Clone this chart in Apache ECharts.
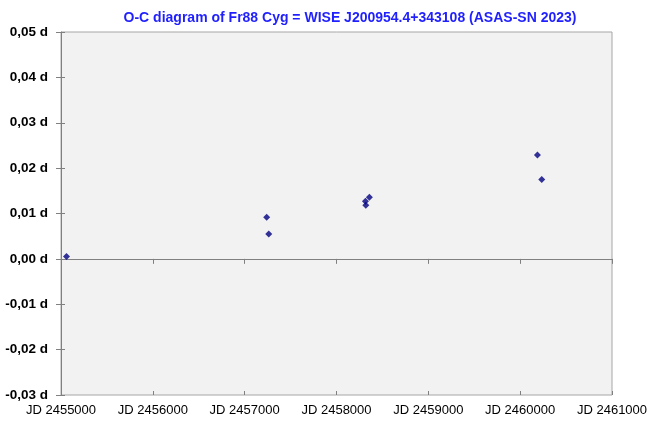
<!DOCTYPE html>
<html><head><meta charset="utf-8">
<script src="https://cdn.jsdelivr.net/npm/echarts@6/dist/echarts.min.js"></script>
<style>html,body{margin:0;padding:0;background:#fff}#c{width:647px;height:421px}</style>
</head><body><div id="c"></div>
<script>
const titleText = 'O-C diagram of Fr88 Cyg = WISE J200954.4+343108 (ASAS-SN 2023)';
const jd = [2455060, 2457240, 2457262, 2458315, 2458319, 2458358, 2460188, 2460235];
const oc = [0.0005, 0.0092, 0.0055, 0.0127, 0.0118, 0.0136, 0.0229, 0.0175];
const xMin = 2455000, xMax = 2461000, xStep = 1000;
const yMin = -0.03, yMax = 0.05, yStep = 0.01;

const pts = jd.map((x, i) => [x, oc[i]]);
const font = '"Liberation Sans", Arial, sans-serif';
const chart = echarts.init(document.getElementById('c'));
const yFmt = v => v.toFixed(2).replace('.', ',') + ' d';
chart.setOption({
  animation: false,
  title: {text: titleText, left: 345, top: 6, textAlign: 'center',
    textStyle: {color: '#1f1fff', fontSize: 14, fontWeight: 'bold', fontFamily: font}},
  grid: {left: 61, right: 35, top: 32, bottom: 26, show: true, containLabel: false, outerBoundsMode: 'none',
    backgroundColor: '#f2f2f2', borderColor: '#a6a6a6', borderWidth: 1},
  xAxis: [
    {type: 'value', min: xMin, max: xMax, interval: xStep, position: 'bottom',
      axisLine: {show: false}, axisTick: {show: false}, splitLine: {show: false},
      axisLabel: {formatter: v => 'JD ' + v, color: '#000', fontSize: 13, fontFamily: font, margin: 9}},
    {type: 'value', min: xMin, max: xMax, interval: xStep, position: 'bottom',
      axisLine: {show: true, onZero: true, lineStyle: {color: '#808080'}},
      axisTick: {show: true, inside: false, length: 5, lineStyle: {color: '#808080'}},
      axisLabel: {show: false}, splitLine: {show: false}},
    {type: 'value', min: xMin, max: xMax, interval: xStep, position: 'bottom',
      axisLine: {show: false, onZero: true},
      axisTick: {show: true, inside: true, length: 4, lineStyle: {color: '#808080'}},
      axisLabel: {show: false}, splitLine: {show: false}}
  ],
  yAxis: [
    {type: 'value', min: yMin, max: yMax, interval: yStep,
      axisLine: {show: true, lineStyle: {color: '#808080'}},
      axisTick: {show: true, length: 5, lineStyle: {color: '#808080'}},
      splitLine: {show: false},
      axisLabel: {formatter: yFmt, color: '#000', fontWeight: 'bold', fontSize: 13.5, fontFamily: font, margin: 13}},
    {type: 'value', min: yMin, max: yMax, interval: yStep, position: 'left',
      axisLine: {show: false},
      axisTick: {show: true, inside: true, length: 4, lineStyle: {color: '#808080'}},
      axisLabel: {show: false}, splitLine: {show: false}}
  ],
  series: [{type: 'scatter', data: pts, symbol: 'diamond', symbolSize: 7,
    itemStyle: {color: '#000080'}, xAxisIndex: 0, yAxisIndex: 0}]
});
</script></body></html>
